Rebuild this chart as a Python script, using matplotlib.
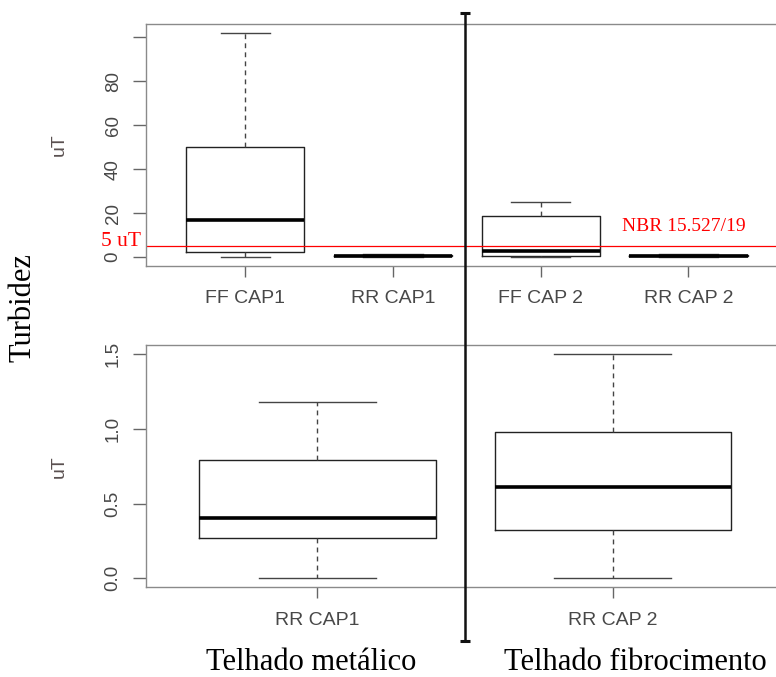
import matplotlib
matplotlib.use("Agg")
import matplotlib.pyplot as plt
import matplotlib.transforms as mtransforms
from matplotlib.lines import Line2D

# turbidity (uT) box statistics
labels = ['FF CAP1', 'RR CAP1', 'FF CAP 2', 'RR CAP 2']
whislo = [0.0, 0.0, 0.0, 0.0]
q1 = [2.3, 0.27, 0.5, 0.32]
med = [17.0, 0.40, 2.7, 0.61]
q3 = [50.0, 0.79, 18.7, 0.98]
whishi = [102.0, 1.18, 25.0, 1.5]

# the lower panel zooms on the roof-runoff series
zoom_idx = [1, 3]

top_yticks = [0, 20, 40, 60, 80, 100]
top_yticklabels = ['0', '20', '40', '60', '80', '']
bot_yticks = [0.0, 0.5, 1.0, 1.5]
bot_yticklabels = ['0.0', '0.5', '1.0', '1.5']

limit = 5
limit_label = '5 uT'
norm_label = 'NBR 15.527/19'
groups = ['Telhado metálico', 'Telhado fibrocimento']
ylabel = 'uT'
title_left = 'Turbidez'

sans = 'Liberation Sans'
serif = 'Liberation Serif'
W, H = 776, 677

def stats(idx):
    return [dict(whislo=whislo[i], q1=q1[i], med=med[i], q3=q3[i],
                 whishi=whishi[i], fliers=[], label=labels[i]) for i in idx]

def style(ax, yticks, yticklabels):
    for s in ax.spines.values():
        s.set_color('#8a8a8a')
        s.set_linewidth(1.0)
    ax.set_yticks(yticks)
    ax.set_yticklabels(yticklabels)
    ax.tick_params(axis='y', length=9.5, width=1.0, color='#666666', pad=8,
                   labelsize=13.5, labelcolor='#484848')
    ax.tick_params(axis='x', length=8, width=1.0, color='#666666', pad=9.5,
                   labelsize=14, labelcolor='#484848')
    for t in ax.get_yticklabels():
        t.set_rotation(90)
        t.set_va('center')
        t.set_ha('right')
        t.set_family(sans)
    for t in ax.get_xticklabels():
        t.set_family(sans)
    ax.set_ylabel(ylabel, family=sans, fontsize=14, color='#5a5050')
    ax.yaxis.set_label_coords(-0.124, 0.5)

box_kw = dict(
    showfliers=False,
    widths=0.8,
    boxprops=dict(color='#222222', linewidth=1.0),
    medianprops=dict(color='black', linewidth=2.6, solid_capstyle='butt'),
    whiskerprops=dict(color='#444444', linewidth=1.0, linestyle=(0, (3.5, 3))),
    capprops=dict(color='#444444', linewidth=1.0),
)

fig = plt.figure(figsize=(W / 100, H / 100), dpi=100)

ax1 = fig.add_axes([146 / W, 1 - 266 / H, 634 / W, 242 / H])
ax1.bxp(stats(range(4)), positions=[1, 2, 3, 4],
        capwidths=[0.33, 0.4, 0.4, 0.4], **box_kw)
ax1.set_xlim(0.3275, 4.62)
ax1.set_ylim(-4.08, 106.08)
ax1.axhline(limit, color='red', linewidth=0.9)
style(ax1, top_yticks, top_yticklabels)
tr = mtransforms.blended_transform_factory(fig.transFigure, ax1.transData)
ax1.text(101 / W, limit, limit_label, transform=tr, color='red',
         family=serif, fontsize=15.5, ha='left', va='baseline')
ax1.text(3.552, 11.8, norm_label, color='red', family=serif, fontsize=14,
         ha='left', va='baseline')

ax2 = fig.add_axes([146 / W, 1 - 587.3 / H, 634 / W, 242.3 / H])
ax2.bxp(stats(zoom_idx), positions=[1, 2], capwidths=0.395, **box_kw)
ax2.set_xlim(0.42, 2.566)
ax2.set_ylim(-0.06, 1.56)
style(ax2, bot_yticks, bot_yticklabels)

# divider between the two roof types
fig.add_artist(Line2D([465 / W, 465 / W], [1 - 12.5 / H, 1 - 640.5 / H],
                      transform=fig.transFigure, color='#111111', linewidth=1.8,
                      marker='_', markersize=7, markeredgewidth=2.2))

fig.text(23 / W, 1 - 307.5 / H, title_left, rotation=90, family=serif,
         fontsize=22, ha='center', va='center')
fig.text(311.5 / W, 1 - 669.5 / H, groups[0], family=serif, fontsize=22,
         ha='center', va='baseline')
fig.text(635 / W, 1 - 669.5 / H, groups[1], family=serif, fontsize=22,
         ha='center', va='baseline')

fig.savefig('out.png', dpi=100)
